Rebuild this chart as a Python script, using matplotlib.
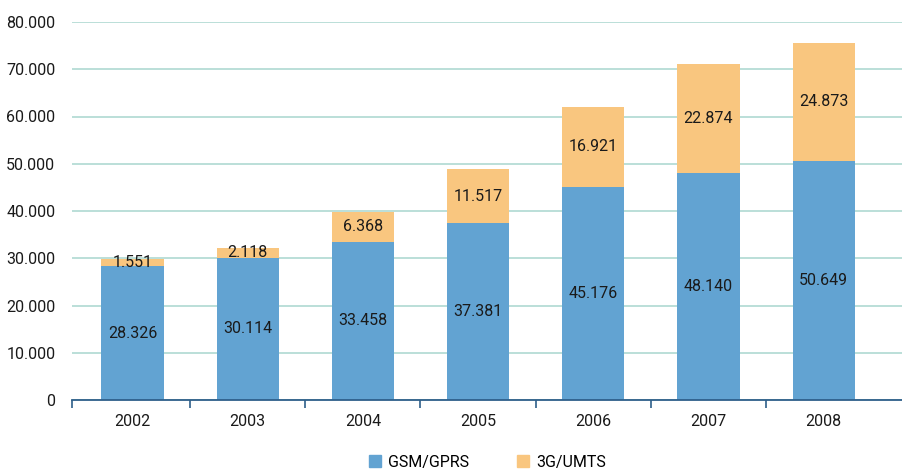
import matplotlib.pyplot as plt
from matplotlib.ticker import FuncFormatter
from matplotlib.patches import Patch

plt.rcParams['font.family'] = ['Roboto', 'DejaVu Sans']

years = ['2002', '2003', '2004', '2005', '2006', '2007', '2008']
gsm = [28326, 30114, 33458, 37381, 45176, 48140, 50649]
umts = [1551, 2118, 6368, 11517, 16921, 22874, 24873]

blue = '#62a3d2'
orange = '#f9c67f'
txt = '#1a1a1a'
fs = 11.5

fig = plt.figure(figsize=(9.02, 4.74), dpi=100)
ax = fig.add_axes([72 / 902, 1 - 400 / 474, 1 - 72 / 902, (400 - 22) / 474])

x = range(len(years))
ax.bar(x, gsm, width=0.54, color=blue, zorder=2)
ax.bar(x, umts, width=0.54, bottom=gsm, color=orange, zorder=2)


def fmt(v):
    return f'{v:,}'.replace(',', '.')


for i in x:
    ax.text(i, gsm[i] / 2, fmt(gsm[i]), ha='center', va='center', fontsize=fs, color=txt, zorder=3)
    ax.text(i, gsm[i] + umts[i] / 2, fmt(umts[i]), ha='center', va='center', fontsize=fs, color=txt, zorder=3)

ax.set_ylim(0, 80000)
ax.set_xlim(-0.525, 6.68)
ax.set_yticks(range(0, 80001, 10000))
ax.yaxis.set_major_formatter(FuncFormatter(lambda v, p: fmt(int(v))))
ax.grid(axis='y', color='#b5dcd6', linewidth=1.3, zorder=0)
ax.tick_params(axis='y', length=0, labelsize=fs, pad=12, labelcolor=txt)

ax.set_xticks(list(x))
ax.set_xticklabels(years)
ax.set_xticks([-0.525] + [i - 0.5 for i in range(1, len(years))], minor=True)
ax.tick_params(axis='x', which='major', length=0, labelsize=fs, pad=10, labelcolor=txt)
ax.tick_params(axis='x', which='minor', length=6, width=1.2, color='#2e5f8a', direction='out')

for s in ['top', 'right', 'left']:
    ax.spines[s].set_visible(False)
ax.spines['bottom'].set_color('#2e5f8a')
ax.spines['bottom'].set_linewidth(1.3)

handles = [Patch(color=blue, label='GSM/GPRS'), Patch(color=orange, label='3G/UMTS')]
fig.legend(handles=handles, loc='center', bbox_to_anchor=(0.54, 0.025), ncol=2, frameon=False,
           fontsize=fs, handlelength=0.8, handleheight=0.8, columnspacing=3, handletextpad=0.4)

fig.savefig('out.png', dpi=100)
